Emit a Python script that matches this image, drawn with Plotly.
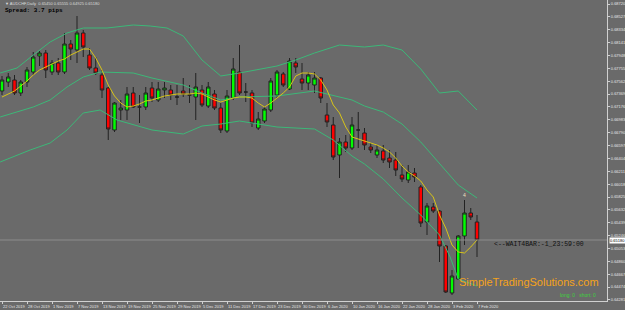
import plotly.graph_objects as go

# ---------------- data ----------------
date_labels = ["22 Oct 2019", "28 Oct 2019", "1 Nov 2019", "7 Nov 2019", "13 Nov 2019",
               "19 Nov 2019", "25 Nov 2019", "29 Nov 2019", "5 Dec 2019", "11 Dec 2019",
               "17 Dec 2019", "23 Dec 2019", "30 Dec 2019", "6 Jan 2020", "10 Jan 2020",
               "16 Jan 2020", "22 Jan 2020", "28 Jan 2020", "3 Feb 2020", "7 Feb 2020"]
label_idx = [0, 4, 8, 12, 16, 20, 24, 28, 32, 36, 40, 44, 48, 52, 56, 60, 64, 68, 72, 76]

opens = [0.67415, 0.67550, 0.67580, 0.67385, 0.67550, 0.67700, 0.67940, 0.67985, 0.67700, 0.67835,
         0.67700, 0.68120, 0.68030, 0.68285, 0.67955, 0.67760, 0.67655, 0.67460, 0.66830, 0.67130,
         0.67130, 0.67385, 0.67175, 0.67175, 0.67460, 0.67280, 0.67430, 0.67430, 0.67325, 0.67415,
         0.67355, 0.67325, 0.67430, 0.67190, 0.67370, 0.67160, 0.66815, 0.67310, 0.67700, 0.67400,
         0.67385, 0.66860, 0.66965, 0.67130, 0.67355, 0.67670, 0.67445, 0.67835, 0.67595, 0.67535,
         0.67505, 0.67610, 0.67055, 0.66905, 0.66455, 0.66650, 0.66560, 0.66830, 0.66785, 0.66575,
         0.66455, 0.66515, 0.66410, 0.66380, 0.66155, 0.66080, 0.66185, 0.65975, 0.65450, 0.65675,
         0.65615, 0.65090, 0.64385, 0.64595, 0.65240, 0.65585, 0.65450]
highs = [0.67640, 0.67685, 0.67655, 0.67580, 0.67775, 0.68000, 0.68015, 0.68030, 0.67880, 0.67910,
         0.68285, 0.68180, 0.68540, 0.68330, 0.68060, 0.67925, 0.67730, 0.67475, 0.67250, 0.67280,
         0.67475, 0.67475, 0.67355, 0.67475, 0.67550, 0.67550, 0.67550, 0.67505, 0.67505, 0.67610,
         0.67505, 0.67685, 0.67505, 0.67550, 0.67430, 0.67235, 0.67430, 0.67910, 0.68105, 0.67535,
         0.67430, 0.67100, 0.67175, 0.67610, 0.67730, 0.67700, 0.67910, 0.67910, 0.67835, 0.67700,
         0.67700, 0.67625, 0.67235, 0.67025, 0.66710, 0.66755, 0.67025, 0.67100, 0.66860, 0.66635,
         0.66605, 0.66605, 0.66530, 0.66500, 0.66305, 0.66305, 0.66260, 0.66005, 0.65735, 0.65735,
         0.65630, 0.65105, 0.64730, 0.65255, 0.65780, 0.65660, 0.65555]
lows = [0.67355, 0.67475, 0.67355, 0.67340, 0.67475, 0.67655, 0.67790, 0.67610, 0.67655, 0.67655,
        0.67670, 0.67880, 0.67835, 0.67925, 0.67730, 0.67655, 0.67310, 0.66680, 0.66800, 0.66980,
        0.66980, 0.67160, 0.66935, 0.67130, 0.67250, 0.67250, 0.67310, 0.67280, 0.67205, 0.67325,
        0.67235, 0.66980, 0.67175, 0.67160, 0.67130, 0.66785, 0.66785, 0.67280, 0.67355, 0.67250,
        0.66875, 0.66830, 0.66935, 0.67100, 0.67310, 0.67475, 0.67430, 0.67685, 0.67430, 0.67430,
        0.67385, 0.67235, 0.66875, 0.66380, 0.66110, 0.66500, 0.66530, 0.66560, 0.66530, 0.66485,
        0.66410, 0.66335, 0.66260, 0.66140, 0.66050, 0.66035, 0.66050, 0.65375, 0.65255, 0.65585,
        0.64850, 0.64385, 0.64355, 0.64580, 0.65105, 0.65480, 0.64925]
closes = [0.67580, 0.67625, 0.67385, 0.67550, 0.67730, 0.67925, 0.67985, 0.67730, 0.67835, 0.67700,
          0.68120, 0.68045, 0.68285, 0.68075, 0.67760, 0.67685, 0.67430, 0.66845, 0.67235, 0.67160,
          0.67370, 0.67175, 0.67175, 0.67385, 0.67310, 0.67445, 0.67460, 0.67355, 0.67325, 0.67370,
          0.67355, 0.67475, 0.67205, 0.67475, 0.67160, 0.66830, 0.67340, 0.67745, 0.67385, 0.67400,
          0.66935, 0.66995, 0.67145, 0.67565, 0.67700, 0.67505, 0.67865, 0.67775, 0.67535, 0.67655,
          0.67610, 0.67310, 0.66950, 0.66425, 0.66650, 0.66560, 0.66905, 0.66830, 0.66605, 0.66530,
          0.66530, 0.66380, 0.66350, 0.66230, 0.66095, 0.66200, 0.66125, 0.65435, 0.65690, 0.65615,
          0.65090, 0.64400, 0.64640, 0.65240, 0.65585, 0.65525, 0.65180]

ma_vals = [0.67325, 0.67370, 0.67415, 0.67490, 0.67565, 0.67655, 0.67730, 0.67775, 0.67820, 0.67865,
           0.67895, 0.67955, 0.68000, 0.68045, 0.68045, 0.67910, 0.67730, 0.67505, 0.67340, 0.67235,
           0.67175, 0.67190, 0.67220, 0.67265, 0.67280, 0.67310, 0.67340, 0.67355, 0.67370, 0.67370,
           0.67370, 0.67385, 0.67370, 0.67325, 0.67280, 0.67250, 0.67280, 0.67310, 0.67325, 0.67325,
           0.67310, 0.67235, 0.67175, 0.67235, 0.67310, 0.67385, 0.67475, 0.67640, 0.67685, 0.67685,
           0.67670, 0.67580, 0.67430, 0.67205, 0.67085, 0.66875, 0.66725, 0.66695, 0.66665, 0.66635,
           0.66605, 0.66560, 0.66500, 0.66410, 0.66290, 0.66200, 0.66140, 0.66065, 0.65930, 0.65825,
           0.65555, 0.65360, 0.65105, 0.65000, 0.64985, 0.65075, 0.65180]

upper_idx = [-0.3, 2.4, 5, 7.7, 10.4, 13, 16.8, 21, 23.7, 26.4, 29, 32, 35, 38, 44, 47, 50, 54, 58,
             61, 64, 67, 70, 73, 76]
upper_val = [0.67685, 0.67760, 0.67955, 0.68150, 0.68285, 0.68360, 0.68360, 0.68405, 0.68390, 0.68360,
             0.68240, 0.67880, 0.67640, 0.67685, 0.67790, 0.67880, 0.67985, 0.68105, 0.68075, 0.68105,
             0.68030, 0.67745, 0.67385, 0.67415, 0.67130]
mid_idx = [-0.3, 5, 7.7, 10.4, 13, 15.7, 21, 24, 29, 32, 35, 38, 44, 50, 56, 58, 61, 64, 67, 70, 73, 76]
mid_val = [0.67025, 0.67175, 0.67280, 0.67475, 0.67625, 0.67700, 0.67685, 0.67610, 0.67505, 0.67385,
           0.67280, 0.67325, 0.67340, 0.67415, 0.67280, 0.67190, 0.67100, 0.66920, 0.66650, 0.66320,
           0.66005, 0.65810]
lower_idx = [-0.3, 4.5, 7.7, 10.4, 13, 15.7, 18.4, 24, 29, 32, 35, 38, 44, 50, 53, 56, 58, 61, 64,
             67, 70, 71.7, 73, 76]
lower_val = [0.66350, 0.66530, 0.66635, 0.66830, 0.67085, 0.67130, 0.66980, 0.66830, 0.66770, 0.66890,
             0.66920, 0.66965, 0.66875, 0.66845, 0.66680, 0.66440, 0.66320, 0.66095, 0.65810, 0.65555,
             0.65255, 0.64925, 0.64595, 0.64490]

price_ticks = [0.68720, 0.68527, 0.68334, 0.68141, 0.67948, 0.67755, 0.67562, 0.67369, 0.67176, 0.66983,
               0.66790, 0.66597, 0.66404, 0.66211, 0.66018, 0.65825, 0.65632, 0.65439, 0.65246, 0.65053,
               0.64860, 0.64667, 0.64474, 0.64281]
current_price = 0.65180

# ---------------- figure ----------------
bg = "#6a6a6a"
band_color = "#3cb878"
bars = list(range(len(opens)))

fig = go.Figure()
for bx, by in ((upper_idx, upper_val), (mid_idx, mid_val), (lower_idx, lower_val)):
    fig.add_trace(go.Scatter(x=bx, y=by, mode="lines",
                             line=dict(color=band_color, width=1), hoverinfo="skip"))
fig.add_trace(go.Candlestick(
    x=bars, open=opens, high=highs, low=lows, close=closes,
    increasing=dict(fillcolor="#00ff00", line=dict(color="#222222", width=1)),
    decreasing=dict(fillcolor="#ff0000", line=dict(color="#222222", width=1)),
    whiskerwidth=0, hoverinfo="skip"))
fig.add_trace(go.Scatter(x=bars, y=ma_vals, mode="lines",
                         line=dict(color="#d8c418", width=1), hoverinfo="skip"))

# bid line
fig.add_hline(y=current_price, line=dict(color="#8c8c8c", width=1))

annotations = []
for i, lab in zip(label_idx, date_labels):
    annotations.append(dict(x=i, y=0, xref="x", yref="paper", text=lab, showarrow=False,
                            xanchor="left", yanchor="top", xshift=-1, yshift=-1,
                            font=dict(size=4, color="#e6e6e6", family="Liberation Sans")))
annotations += [
    dict(x=0.005, y=1, xref="paper", yref="paper", xanchor="left", yanchor="top", yshift=1,
         text="▼ AUDCHF,Daily  0.65450 0.65555 0.64925 0.65180", showarrow=False,
         font=dict(size=4, color="#dcdcdc", family="Liberation Sans")),
    dict(x=0.005, y=1, xref="paper", yref="paper", xanchor="left", yanchor="top", yshift=-5,
         text="<b>Spread: 3.7 pips</b>", showarrow=False,
         font=dict(size=6, color="#000000", family="Liberation Mono")),
    dict(x=1.003, y=current_price, xref="paper", yref="y", xanchor="left", yanchor="middle",
         text="0.65180", showarrow=False, bgcolor="#ffffff", borderpad=0,
         font=dict(size=4, color="#000000", family="Liberation Sans")),
    dict(x=0.81, y=current_price, xref="paper", yref="y", xanchor="left", yanchor="top", yshift=1,
         text="<--WAIT4BAR:-1_23:59:00", showarrow=False,
         font=dict(size=6.5, color="#111111", family="Liberation Mono")),
    dict(x=0.99, y=0.03, xref="paper", yref="paper", xanchor="right", yanchor="bottom", yshift=2,
         text="SimpleTradingSolutions.com", showarrow=False,
         font=dict(size=11, color="#f5a31a", family="Liberation Sans")),
    dict(x=0.985, y=0.0, xref="paper", yref="paper", xanchor="right", yanchor="bottom", yshift=1,
         text="long: 0&nbsp;&nbsp;&nbsp;short: 0", showarrow=False,
         font=dict(size=5, color="#3cd23c", family="Liberation Sans")),
    dict(x=74, y=0.65780, xref="x", yref="y", text="4", showarrow=False, yanchor="bottom",
         font=dict(size=5, color="#f0e0c0", family="Liberation Sans")),
]

fig.update_layout(
    width=625, height=310,
    margin=dict(l=0, r=18, t=0, b=9),
    paper_bgcolor=bg, plot_bgcolor=bg,
    showlegend=False,
    boxgap=0.2,
    annotations=annotations,
    xaxis=dict(range=[-0.32, 96.8], showgrid=False, zeroline=False,
               rangeslider=dict(visible=False),
               tickvals=label_idx, showticklabels=False, ticks="outside", ticklen=2,
               tickcolor="#d0d0d0", showline=True, linecolor="#d0d0d0", linewidth=1),
    yaxis=dict(range=[0.64265, 0.68780], side="right", showgrid=False, zeroline=False,
               tickvals=price_ticks, ticktext=[f"{v:.5f}" for v in price_ticks],
               ticks="outside", ticklen=2, tickcolor="#d0d0d0",
               tickfont=dict(size=4, color="#e6e6e6", family="Liberation Sans"),
               showline=True, linecolor="#d0d0d0", linewidth=1),
)

fig.write_html("out.html")
